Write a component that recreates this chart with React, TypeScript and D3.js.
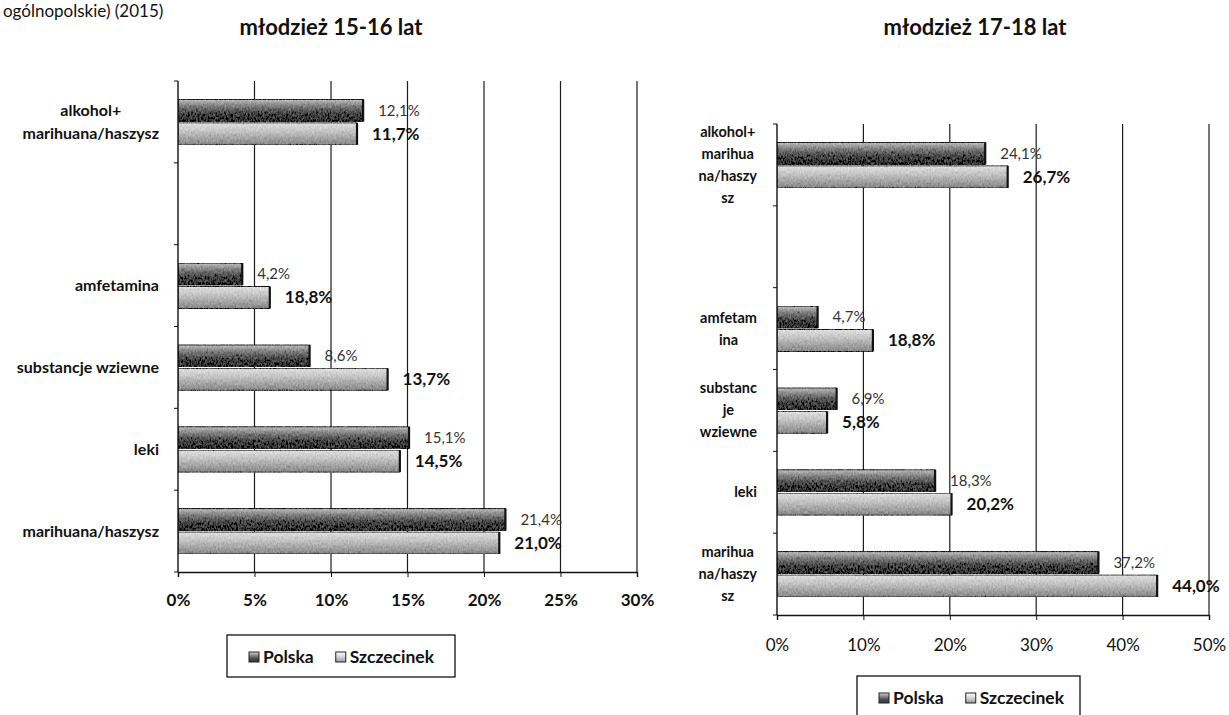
import React, { useEffect, useRef } from 'react'
import * as d3 from 'd3'

const seriesNames = ['Polska', 'Szczecinek']

// młodzież 15-16 lat (second slot is an empty category in the source chart)
const leftCategories = ['alkohol+\nmarihuana/haszysz', '', 'amfetamina', 'substancje wziewne', 'leki', 'marihuana/haszysz']
const leftPolska = [12.1, 0, 4.2, 8.6, 15.1, 21.4]
const leftSzczecinek = [11.7, 0, 6.0, 13.7, 14.5, 21.0]
const leftPolskaLabels = ['12,1%', '', '4,2%', '8,6%', '15,1%', '21,4%']
const leftSzczecinekLabels = ['11,7%', '', '18,8%', '13,7%', '14,5%', '21,0%']
const leftTicks = [0, 5, 10, 15, 20, 25, 30]

// młodzież 17-18 lat
const rightCategories = ['alkohol+\nmarihua\nna/haszy\nsz', '', 'amfetam\nina', 'substanc\nje\nwziewne', 'leki', 'marihua\nna/haszy\nsz']
const rightPolska = [24.1, 0, 4.7, 6.9, 18.3, 37.2]
const rightSzczecinek = [26.7, 0, 11.1, 5.8, 20.2, 44.0]
const rightPolskaLabels = ['24,1%', '', '4,7%', '6,9%', '18,3%', '37,2%']
const rightSzczecinekLabels = ['26,7%', '', '18,8%', '5,8%', '20,2%', '44,0%']
const rightTicks = [0, 10, 20, 30, 40, 50]

const FONT = "Lato, 'Open Sans', sans-serif"

interface Panel {
  title: string
  titleX: number
  categories: string[]
  polska: number[]
  szczecinek: number[]
  polskaLabels: string[]
  szczecinekLabels: string[]
  ticks: number[]
  left: number
  right: number
  top: number
  bottom: number
  labelRight: number
  lineHeight: number
  catSize: number
  tickBold: boolean
  tickY: number
  legend: { x: number; y: number; w: number; h: number }
}

function drawPanel(svg: d3.Selection<SVGSVGElement, unknown, null, undefined>, p: Panel) {
  const maxTick = p.ticks[p.ticks.length - 1]
  const x = d3.scaleLinear().domain([0, maxTick]).range([p.left, p.right])
  const y = d3.scaleBand<string>().domain(p.categories).range([p.top, p.bottom])
  const bw = y.bandwidth()
  const inner = d3.scaleBand<string>()
    .domain(seriesNames)
    .range([bw * 0.225, bw * 0.78])
    .paddingInner(0.06)

  const g = svg.append('g')

  // Title
  g.append('text')
    .attr('x', p.titleX)
    .attr('y', 35)
    .attr('text-anchor', 'middle')
    .attr('font-size', 22)
    .attr('font-weight', 'bold')
    .attr('fill', '#111')
    .text(p.title)

  // Vertical gridlines
  g.selectAll('.grid')
    .data(p.ticks.filter(t => t > 0))
    .enter().append('line')
    .attr('x1', d => x(d))
    .attr('x2', d => x(d))
    .attr('y1', p.top)
    .attr('y2', p.bottom)
    .attr('stroke', '#1c1c1c')
    .attr('stroke-width', 1.2)

  // Bars
  const rows = p.categories.map((c, i) => ({
    cat: c,
    vals: [
      { s: 'Polska', v: p.polska[i], label: p.polskaLabels[i] },
      { s: 'Szczecinek', v: p.szczecinek[i], label: p.szczecinekLabels[i] },
    ],
  })).filter(r => r.cat !== '')

  rows.forEach(r => {
    r.vals.forEach(d => {
      const y0 = (y(r.cat) || 0) + (inner(d.s) || 0)
      const h = inner.bandwidth()
      const isP = d.s === 'Polska'
      g.append('rect')
        .attr('x', x(0))
        .attr('y', y0)
        .attr('width', x(d.v) - x(0))
        .attr('height', h)
        .attr('fill', isP ? 'url(#gradPolska)' : 'url(#gradSzcz)')
        .attr('filter', 'url(#grain)')
        .attr('stroke', isP ? '#111' : '#333')
        .attr('stroke-width', 1)
      // darker end cap
      g.append('line')
        .attr('x1', x(d.v))
        .attr('x2', x(d.v))
        .attr('y1', y0)
        .attr('y2', y0 + h)
        .attr('stroke', '#111')
        .attr('stroke-width', 2.2)

      g.append('text')
        .attr('x', x(d.v) + 15)
        .attr('y', y0 + h / 2)
        .attr('dy', '0.35em')
        .attr('font-size', isP ? 15 : 17)
        .attr('font-weight', isP ? 'normal' : 'bold')
        .attr('fill', isP ? '#333' : '#111')
        .text(d.label)
    })
  })

  // Category axis (left)
  g.append('line')
    .attr('x1', x(0)).attr('x2', x(0))
    .attr('y1', p.top).attr('y2', p.bottom)
    .attr('stroke', '#111').attr('stroke-width', 1.4)
  const bounds = p.categories.map(c => y(c) || 0).concat([p.bottom])
  g.selectAll('.ctick')
    .data(bounds)
    .enter().append('line')
    .attr('x1', x(0) - 4).attr('x2', x(0))
    .attr('y1', d => d).attr('y2', d => d)
    .attr('stroke', '#111')

  // Category labels
  p.categories.forEach(c => {
    if (!c) return
    const lines = c.split('\n')
    const cy = (y(c) || 0) + bw / 2
    const t = g.append('text')
      .attr('font-size', p.catSize)
      .attr('font-weight', 'bold')
      .attr('fill', '#111')
    lines.forEach((ln, i) => {
      t.append('tspan')
        .attr('y', cy + (i - (lines.length - 1) / 2) * p.lineHeight)
        .attr('dy', '0.35em')
        .text(ln)
    })
    if (lines.length === 1) {
      t.attr('text-anchor', 'end').selectAll('tspan').attr('x', p.labelRight)
    } else {
      let maxW = 0
      t.selectAll<SVGTSpanElement, unknown>('tspan').each(function () {
        maxW = Math.max(maxW, this.getComputedTextLength())
      })
      t.attr('text-anchor', 'middle').selectAll('tspan').attr('x', p.labelRight - maxW / 2)
    }
  })

  // Value axis (bottom)
  const axis = g.append('g')
    .attr('transform', `translate(0,${p.bottom})`)
    .call(d3.axisBottom(x).tickValues(p.ticks).tickSize(5).tickFormat(d => `${d}%`))
  axis.select('.domain').attr('stroke', '#111').attr('stroke-width', 1.4)
  axis.selectAll('.tick line').attr('stroke', '#111')
  axis.selectAll('.tick text')
    .attr('y', p.tickY)
    .attr('dy', '0.35em')
    .attr('font-size', 17)
    .attr('font-family', FONT)
    .attr('font-weight', p.tickBold ? 'bold' : 'normal')
    .attr('fill', '#111')

  // Legend
  const lg = g.append('g').attr('transform', `translate(${p.legend.x},${p.legend.y})`)
  lg.append('rect')
    .attr('width', p.legend.w)
    .attr('height', p.legend.h)
    .attr('fill', '#fff')
    .attr('stroke', '#111')
    .attr('stroke-width', 1.3)
  const cyL = 22
  let cx = 22
  seriesNames.forEach(s => {
    lg.append('rect')
      .attr('x', cx).attr('y', cyL - 5)
      .attr('width', 10).attr('height', 10)
      .attr('fill', s === 'Polska' ? 'url(#gradPolska)' : 'url(#gradSzcz)')
      .attr('stroke', '#222')
    const tx = lg.append('text')
      .attr('x', cx + 14)
      .attr('y', cyL)
      .attr('dy', '0.35em')
      .attr('font-size', 17.5)
      .attr('font-weight', 'bold')
      .attr('fill', '#111')
      .text(s)
    cx += 14 + (tx.node()?.getComputedTextLength() || 0) + 22
  })
}

export default function App() {
  const svgRef = useRef<SVGSVGElement>(null)

  useEffect(() => {
    if (!svgRef.current) return
    document.body.style.margin = '0'
    const svg = d3.select(svgRef.current)
    svg.selectAll('*').remove()
    svg.attr('font-family', FONT)

    const defs = svg.append('defs')
    const gp = defs.append('linearGradient').attr('id', 'gradPolska').attr('x1', 0).attr('x2', 0).attr('y1', 0).attr('y2', 1)
    gp.append('stop').attr('offset', '0%').attr('stop-color', '#dadada')
    gp.append('stop').attr('offset', '30%').attr('stop-color', '#909090')
    gp.append('stop').attr('offset', '65%').attr('stop-color', '#4c4c4c')
    gp.append('stop').attr('offset', '100%').attr('stop-color', '#353535')
    const gs = defs.append('linearGradient').attr('id', 'gradSzcz').attr('x1', 0).attr('x2', 0).attr('y1', 0).attr('y2', 1)
    gs.append('stop').attr('offset', '0%').attr('stop-color', '#ffffff')
    gs.append('stop').attr('offset', '35%').attr('stop-color', '#e2e2e2')
    gs.append('stop').attr('offset', '100%').attr('stop-color', '#999')

    const f = defs.append('filter').attr('id', 'grain').attr('x', 0).attr('y', 0).attr('width', 1).attr('height', 1)
    f.append('feTurbulence').attr('type', 'fractalNoise').attr('baseFrequency', '0.6 0.35').attr('numOctaves', 2).attr('seed', 4).attr('result', 'noise')
    f.append('feColorMatrix').attr('in', 'noise').attr('type', 'matrix')
      .attr('values', '0.33 0.33 0.33 0 0  0.33 0.33 0.33 0 0  0.33 0.33 0.33 0 0  0 0 0 0 1')
      .attr('result', 'gray')
    f.append('feComposite').attr('in', 'SourceGraphic').attr('in2', 'gray').attr('operator', 'arithmetic')
      .attr('k1', 0).attr('k2', 0.75).attr('k3', 0.5).attr('k4', -0.25).attr('result', 'mix')
    f.append('feComposite').attr('in', 'mix').attr('in2', 'SourceGraphic').attr('operator', 'in')

    // Caption line above the charts (cut at the top in the source)
    svg.append('text')
      .attr('x', 3)
      .attr('y', 17)
      .attr('font-size', 17)
      .attr('fill', '#111')
      .text('ogólnopolskie) (2015)')

    drawPanel(svg, {
      title: 'młodzież 15-16 lat',
      titleX: 331,
      categories: leftCategories,
      polska: leftPolska,
      szczecinek: leftSzczecinek,
      polskaLabels: leftPolskaLabels,
      szczecinekLabels: leftSzczecinekLabels,
      ticks: leftTicks,
      left: 178,
      right: 637,
      top: 81,
      bottom: 572,
      labelRight: 159,
      lineHeight: 23,
      catSize: 16,
      tickBold: true,
      tickY: 28,
      legend: { x: 227, y: 635, w: 228, h: 42 },
    })

    drawPanel(svg, {
      title: 'młodzież 17-18 lat',
      titleX: 975,
      categories: rightCategories,
      polska: rightPolska,
      szczecinek: rightSzczecinek,
      polskaLabels: rightPolskaLabels,
      szczecinekLabels: rightSzczecinekLabels,
      ticks: rightTicks,
      left: 777,
      right: 1209,
      top: 124,
      bottom: 615,
      labelRight: 757,
      lineHeight: 22,
      catSize: 14.5,
      tickBold: false,
      tickY: 30,
      legend: { x: 857, y: 676, w: 223, h: 45 },
    })
  }, [])

  return (
    <svg ref={svgRef} width={1229} height={715} style={{ display: 'block', background: '#fff' }} />
  )
}
